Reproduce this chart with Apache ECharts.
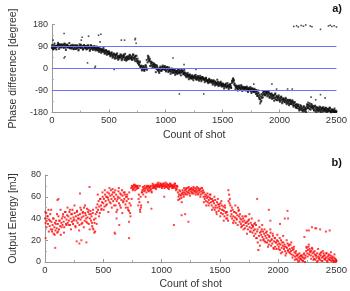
<!DOCTYPE html>
<html>
<head>
<meta charset="utf-8">
<script src="https://cdn.jsdelivr.net/npm/echarts@6/dist/echarts.min.js"></script>
<style>
  html, body { margin: 0; padding: 0; background: #fff; }
  #chart { width: 350px; height: 291px; }
</style>
</head>
<body>
<div id="chart"></div>
<script>
// first pass: one shot every 5 counts, second pass: every 10 counts from shot 3
var STEP = 5;
var STEP2 = 10;
var OFFSET2 = 3;
var xTicks = [0, 500, 1000, 1500, 2000, 2500];
var phaseTicks = [-180, -90, 0, 90, 180];
var energyTicks = [0, 20, 40, 60, 80];
// blue reference levels on the phase plot
var phaseLevels = [90, 0, -90];

// phase difference [degree]
var phaseValues = [
  84, 90, 80, 88, 95, 82, 86, 92, 78, 89, 97, 93, 100, 88, 96, 91, 86, 99, 94, 90,
  97, 88, 102, 92, 85, 95, 90, 98, 86, 93, 89, 84, 91, 87, 95, 82, 88, 92, 80, 90,
  86, 93, 81, 89, 95, 84, 90, 78, 88, 92, 85, 97, 83, 89, 91, 80, 94, 87, 90, 84,
  92, 86, 80, 89, 95, 83, 88, 78, 91, 85, 82, 90, 76, 86, 84, 79, 88, 81, 75, 85,
  80, 74, 84, 78, 71, 82, 76, 70, 79, 73, 68, 77, 72, 64, 70, 75, 62, 69, 66, 60,
  65, 58, 62, 54, 60, 66, 52, 57, 48, 61, 55, 45, 50, 58, 42, 53, 47, 40, 51, 44,
  48, 55, 42, 50, 38, 46, 57, 52, 35, 44, 40, 48, 36, 43, 50, 39, 47, 54, 41, 45,
  50, 38, 46, 55, 42, 36, 48, 52, 40, 33, 28, 22, 30, 15, 24, 8, 3, 12, -4, 5,
  0, 8, -6, 4, -2, 10, 3, -5, 25, 42, 48, 35, 40, 28, 20, 12, 24, 15, 8, 18,
  10, 16, 5, 13, -2, 6, -8, 0, -12, -4, 3, -9, 1, -5, 6, -2, 8, 0, 4, -6,
  2, -8, 5, -3, 0, -10, 4, -6, -12, -2, -14, -5, -9, -16, -3, -11, -18, -7, -13, -20,
  -10, -16, -6, -14, -20, -8, -12, -17, -4, -13, -10, -18, -22, -15, -28, -20, -32, -24, -30, -26,
  -34, -28, -38, -31, -40, -35, -30, -42, -36, -33, -39, -29, -37, -44, -34, -41, -38, -32, -45, -40,
  -36, -43, -39, -47, -35, -42, -38, -46, -41, -49, -44, -40, -52, -47, -55, -50, -45, -57, -52, -48,
  -56, -51, -60, -54, -48, -62, -57, -53, -64, -59, -66, -61, -55, -68, -63, -58, -70, -65, -60, -67,
  -72, -64, -69, -75, -66, -71, -62, -76, -70, -73, -68, -78, -74, -65, -70, -80, -60, -50, -44, -55,
  -48, -62, -70, -78, -72, -80, -74, -84, -76, -70, -81, -77, -86, -73, -79, -83, -75, -88, -80, -76,
  -82, -78, -87, -80, -90, -84, -79, -88, -83, -92, -86, -81, -94, -85, -89, -96, -83, -91, -98, -88,
  -95, -104, -112, -100, -118, -108, -126, -115, -132, -120, -110, -98, -106, -94, -102, -110, -96, -104, -92, -100,
  -108, -98, -114, -104, -118, -110, -102, -116, -108, -122, -112, -120, -106, -126, -118, -112, -130, -122, -116, -128,
  -120, -132, -124, -115, -128, -136, -122, -130, -126, -138, -131, -124, -140, -134, -128, -142, -136, -130, -145, -138,
  -133, -146, -140, -135, -150, -143, -138, -152, -147, -158, -150, -162, -155, -148, -165, -158, -168, -160, -154, -170,
  -163, -172, -158, -167, -175, -160, -169, -164, -156, -150, -162, -148, -155, -166, -152, -159, -145, -157, -162, -153,
  -160, -168, -155, -172, -163, -158, -170, -165, -175, -161, -167, -173, -159, -166, -171, -162, -176, -168, -164, -170,
  -166, -174, -162, -170, -176, -165, -172, -168, -160, -175, -171, -178, -167, -173, -176, -169, -178, -172, -175, -177,
  -176
];

var phaseValues2 = [
  96, 78, 102, 85, 92, 105, 80, 98, 88, 94,
  84, 100, 76, 95, 88, 104, 82, 92, 97, 79,
  95, 80, 92, 74, 99, 86, 90, 77, 96, 83,
  78, 94, 87, 72, 96, 81, 89, 92, 74, 90,
  86, 68, 80, 64, 76, 84, 60, 74, 56, 70,
  70, 50, 63, 44, 58, 40, 56, 62, 36, 48,
  58, 34, 52, 45, 60, 32, 48, 38, 56, 42,
  35, 58, 44, 30, 52, 40, 18, 28, 10, -8,
  10, -10, 14, 35, 52, 30, 10, 28, 4, 22,
  5, -15, 12, -6, -18, 8, -10, 12, -4, 10,
  -12, 6, -15, -8, -22, 0, -18, -6, -26, -14,
  -22, -2, -18, -28, -10, -24, -6, -20, -36, -18,
  -44, -24, -40, -28, -48, -34, -26, -46, -32, -50,
  -30, -52, -36, -44, -56, -38, -50, -60, -42, -54,
  -48, -66, -52, -70, -58, -46, -72, -62, -54, -74,
  -62, -82, -68, -78, -60, -84, -66, -76, -52, -40,
  -66, -86, -70, -90, -74, -82, -68, -92, -78, -84,
  -90, -74, -96, -86, -76, -100, -82, -94, -88, -104,
  -112, -90, -124, -138, -104, -118, -92, -108, -98, -114,
  -96, -120, -104, -124, -110, -132, -102, -128, -116, -110,
  -136, -118, -142, -126, -134, -120, -146, -130, -150, -128,
  -144, -130, -156, -138, -160, -146, -152, -172, -150, -164,
  -176, -154, -168, -178, -146, -160, -142, -168, -150, -164,
  -172, -152, -178, -160, -170, -156, -178, -164, -158, -174,
  -160, -178, -168, -174, -162, -179, -170, -176, -164, -178
];

// scattered shots away from the band [shot, degree]
var phaseStray = [
  [10, 116], [107, 143], [115, 48], [107, 43], [258, 116], [265, 128], [322, 132], [313, 23],
  [382, 9], [378, 4], [410, 136], [423, 109], [430, 140], [547, -4], [610, 116], [638, 116],
  [730, 118], [734, 123], [740, 103], [1064, 43], [1120, -104], [1161, 16], [1265, -4],
  [1334, -104], [1774, -64], [1829, -144], [1933, -64], [1974, -84], [2071, -84], [2112, -84],
  [2250, -138], [2277, -117], [2318, -128], [2360, -107], [2401, -120],
  [2125, 172], [2150, 175], [2165, 170], [2190, 176], [2210, 173], [2230, 178], [2270, 174],
  [2285, 171], [2360, 160], [2430, 174], [2445, 177], [2460, 172], [2480, 175], [2500, 170]
];

// output energy [mJ]
var energyValues = [
  40, 36, 45, 38, 42, 35, 48, 39, 33, 44, 30, 37, 28, 34, 40, 26, 32, 36, 29, 38,
  31, 27, 35, 42, 30, 38, 33, 25, 36, 40, 34, 44, 37, 32, 41, 46, 35, 39, 43, 36,
  42, 38, 46, 34, 40, 44, 37, 48, 35, 41, 39, 45, 33, 42, 38, 47, 36, 43, 40, 34,
  44, 39, 48, 41, 36, 46, 42, 50, 38, 45, 43, 37, 49, 41, 46, 35, 44, 40, 47, 38,
  42, 33, 45, 30, 39, 36, 28, 44, 50, 46, 53, 48, 56, 51, 45, 58, 52, 49, 55, 60,
  54, 58, 51, 62, 56, 60, 53, 64, 59, 57, 63, 55, 61, 66, 58, 62, 67, 56, 60, 64,
  58, 52, 62, 56, 48, 60, 65, 54, 59, 63, 50, 57, 66, 61, 55, 64, 58, 62, 53, 60,
  56, 62, 50, 58, 47, 54, 45, 52, 68, 70, 69, 67, 70, 68, 71, 69, 70, 67, 69, 70,
  68, 62, 55, 48, 60, 52, 64, 66, 69, 67, 65, 70, 66, 68, 64, 69, 67, 70, 65, 68,
  66, 69, 67, 64, 70, 68, 71, 69, 70, 68, 71, 70, 69, 72, 70, 71, 69, 70, 72, 71,
  70, 69, 71, 70, 72, 68, 70, 71, 69, 72, 70, 68, 71, 70, 69, 72, 71, 70, 68, 70,
  71, 69, 70, 72, 68, 70, 67, 69, 64, 60, 62, 58, 65, 61, 59, 63, 66, 62, 60, 64,
  66, 63, 67, 65, 62, 68, 64, 66, 63, 67, 65, 68, 64, 66, 67, 63, 65, 68, 66, 64,
  67, 65, 63, 68, 66, 64, 67, 62, 65, 68, 63, 66, 60, 64, 58, 62, 56, 61, 59, 55,
  60, 57, 54, 59, 62, 55, 52, 58, 56, 50, 54, 48, 57, 52, 46, 55, 50, 53, 47, 51,
  49, 54, 45, 52, 48, 44, 51, 47, 42, 50, 45, 40, 46, 43, 38, 56, 62, 58, 52, 47,
  44, 40, 48, 42, 38, 46, 41, 36, 45, 39, 43, 50, 47, 42, 37, 40, 35, 39, 33, 37,
  40, 34, 38, 31, 36, 42, 33, 37, 30, 35, 39, 32, 28, 36, 31, 34, 27, 33, 29, 35,
  30, 26, 34, 22, 28, 18, 11, 24, 32, 27, 20, 25, 30, 23, 28, 21, 26, 19, 24, 27,
  22, 18, 25, 20, 16, 23, 19, 27, 15, 21, 17, 24, 13, 19, 22, 14, 18, 12, 20, 16,
  19, 14, 17, 11, 16, 20, 13, 9, 15, 18, 12, 16, 10, 14, 8, 13, 17, 11, 15, 9,
  12, 16, 10, 7, 13, 11, 6, 14, 9, 5, 8, 3, 6, 2, 7, 4, 1, 5, 3, 6,
  2, 5, 1, 4, 7, 3, 0, 6, 10, 13, 8, 11, 14, 7, 12, 9, 6, 10, 13, 8,
  5, 9, 3, 7, 2, 6, 4, 8, 1, 5, 3, 7, 2, 6, 9, 4, 1, 5, 8, 3,
  6, 2, 4, 8, 1, 5, 3, 7, 2, 4, 6, 1, 3, 5, 2, 0, 4, 1, 3, 2,
  1
];

var energyValues2 = [
  46, 32, 42, 28, 38, 48, 30, 40, 25, 35,
  44, 28, 38, 48, 32, 42, 27, 46, 34, 50,
  34, 48, 30, 44, 38, 52, 32, 46, 40, 29,
  50, 35, 45, 32, 52, 40, 36, 48, 30, 44,
  36, 48, 27, 40, 35, 62, 42, 58, 48, 64,
  48, 66, 52, 60, 46, 68, 54, 50, 64, 52,
  66, 46, 58, 68, 52, 62, 45, 56, 64, 50,
  60, 48, 64, 42, 58, 66, 71, 66, 70, 68,
  58, 70, 50, 64, 62, 68, 60, 70, 66, 69,
  70, 65, 72, 68, 70, 67, 71, 73, 69, 72,
  68, 72, 70, 73, 69, 71, 67, 72, 70, 69,
  68, 72, 66, 70, 57, 66, 62, 55, 64, 68,
  62, 68, 64, 69, 61, 67, 63, 69, 65, 62,
  69, 62, 66, 60, 68, 64, 55, 60, 52, 63,
  52, 62, 58, 48, 56, 60, 50, 44, 58, 53,
  42, 56, 48, 38, 52, 46, 40, 66, 54, 42,
  50, 36, 46, 52, 40, 34, 48, 44, 32, 42,
  30, 42, 36, 26, 38, 44, 28, 40, 32, 24,
  36, 22, 30, 38, 15, 28, 34, 20, 30, 18,
  28, 14, 24, 30, 20, 26, 12, 22, 18, 25,
  12, 22, 8, 18, 24, 14, 6, 20, 10, 16,
  8, 18, 4, 12, 2, 10, 6, 0, 8, 3,
  6, 1, 8, 4, 14, 5, 16, 10, 3, 12,
  2, 10, 6, 0, 12, 4, 8, 1, 10, 6,
  3, 8, 0, 6, 2, 9, 4, 1, 7, 0
];

// scattered shots away from the cloud [shot, mJ]
var energyStray = [
  [5, 22], [88, 13], [107, 57], [115, 58], [272, 19], [295, 17], [300, 63], [312, 20],
  [355, 18], [382, 69], [410, 31], [597, 27], [602, 26], [614, 40], [637, 34], [720, 37],
  [721, 22], [800, 52], [817, 46], [884, 55], [913, 49], [1023, 60], [1106, 34], [1172, 43],
  [1202, 44], [1230, 37], [1820, 58], [1920, 48], [1933, 38], [2016, 35], [2057, 40],
  [2080, 47], [2085, 40], [2225, 23], [2245, 29], [2263, 29], [2290, 32], [2318, 31],
  [2327, 31], [2360, 30], [2410, 28], [2442, 29]
];

var FONT = "Liberation Sans, Arial, sans-serif";

function toPoints(values, step, offset) {
  var pts = [];
  for (var i = 0; i < values.length; i++) {
    pts.push([offset + i * step, values[i]]);
  }
  return pts;
}

function xAxisFor(gridIndex) {
  return {
    gridIndex: gridIndex,
    type: "value",
    min: xTicks[0],
    max: xTicks[xTicks.length - 1],
    interval: xTicks[1] - xTicks[0],
    name: "Count of shot",
    nameLocation: "middle",
    nameGap: 17,
    nameTextStyle: { color: "#333", fontSize: 10.5, fontFamily: FONT },
    axisLine: { onZero: false, lineStyle: { color: "#999" } },
    axisTick: { inside: true, length: 3, lineStyle: { color: "#999" } },
    minorTick: { show: true, splitNumber: 2, length: 2, lineStyle: { color: "#aaa" } },
    axisLabel: {
      color: "#333",
      fontSize: 9.5,
      fontFamily: FONT,
      margin: 3,
      formatter: function (v) { return String(v); },
    },
    splitLine: { show: false },
    minorSplitLine: { show: false },
  };
}

function yAxisFor(gridIndex, ticks, name) {
  return {
    gridIndex: gridIndex,
    type: "value",
    min: ticks[0],
    max: ticks[ticks.length - 1],
    interval: ticks[1] - ticks[0],
    name: name,
    nameLocation: "middle",
    nameGap: 26,
    nameTextStyle: { color: "#333", fontSize: 10.5, fontFamily: FONT },
    axisLine: { show: true, onZero: false, lineStyle: { color: "#999" } },
    axisTick: { show: true, inside: true, length: 3, lineStyle: { color: "#999" } },
    minorTick: { show: true, splitNumber: 2, length: 2, lineStyle: { color: "#aaa" } },
    axisLabel: { color: "#333", fontSize: 9, fontFamily: FONT, margin: 4 },
    splitLine: { show: false },
    minorSplitLine: { show: false },
  };
}

var chart = echarts.init(document.getElementById("chart"));

var option = {
  animation: false,
  grid: [
    { left: 36, right: 11, top: 24.5, height: 88 },
    { left: 36, right: 12, top: 175, height: 89 },
  ],
  xAxis: [xAxisFor(0), xAxisFor(1)],
  yAxis: [
    yAxisFor(0, phaseTicks, "Phase difference [degree]"),
    yAxisFor(1, energyTicks, "Output Energy [mJ]"),
  ],
  graphic: [
    { type: "text", right: 8, top: 3, style: { text: "a)", font: "bold 11px " + FONT, fill: "#111" } },
    { type: "text", right: 8, top: 157, style: { text: "b)", font: "bold 11px " + FONT, fill: "#111" } },
  ],
  series: [
    {
      type: "scatter",
      xAxisIndex: 0,
      yAxisIndex: 0,
      symbol: "rect",
      symbolSize: 2,
      itemStyle: { color: "#000" },
      data: toPoints(phaseValues, STEP, 0),
      markLine: {
        silent: true,
        symbol: "none",
        label: { show: false },
        lineStyle: { color: "#7070ff", width: 1, type: "solid" },
        data: phaseLevels.map(function (v) { return { yAxis: v }; }),
      },
    },
    {
      type: "scatter",
      xAxisIndex: 0,
      yAxisIndex: 0,
      symbol: "rect",
      symbolSize: 2,
      itemStyle: { color: "#111" },
      data: toPoints(phaseValues2, STEP2, OFFSET2),
    },
    {
      type: "scatter",
      xAxisIndex: 0,
      yAxisIndex: 0,
      symbol: "rect",
      symbolSize: 1.6,
      itemStyle: { color: "#222" },
      data: phaseStray,
    },
    {
      type: "scatter",
      xAxisIndex: 1,
      yAxisIndex: 1,
      symbol: "rect",
      symbolSize: 2,
      itemStyle: { color: "#ff0000" },
      data: toPoints(energyValues, STEP, 0),
    },
    {
      type: "scatter",
      xAxisIndex: 1,
      yAxisIndex: 1,
      symbol: "rect",
      symbolSize: 2,
      itemStyle: { color: "#ff1010" },
      data: toPoints(energyValues2, STEP2, OFFSET2),
    },
    {
      type: "scatter",
      xAxisIndex: 1,
      yAxisIndex: 1,
      symbol: "rect",
      symbolSize: 2,
      itemStyle: { color: "#ff2020" },
      data: energyStray,
    },
  ],
};

chart.setOption(option);
</script>
</body>
</html>
